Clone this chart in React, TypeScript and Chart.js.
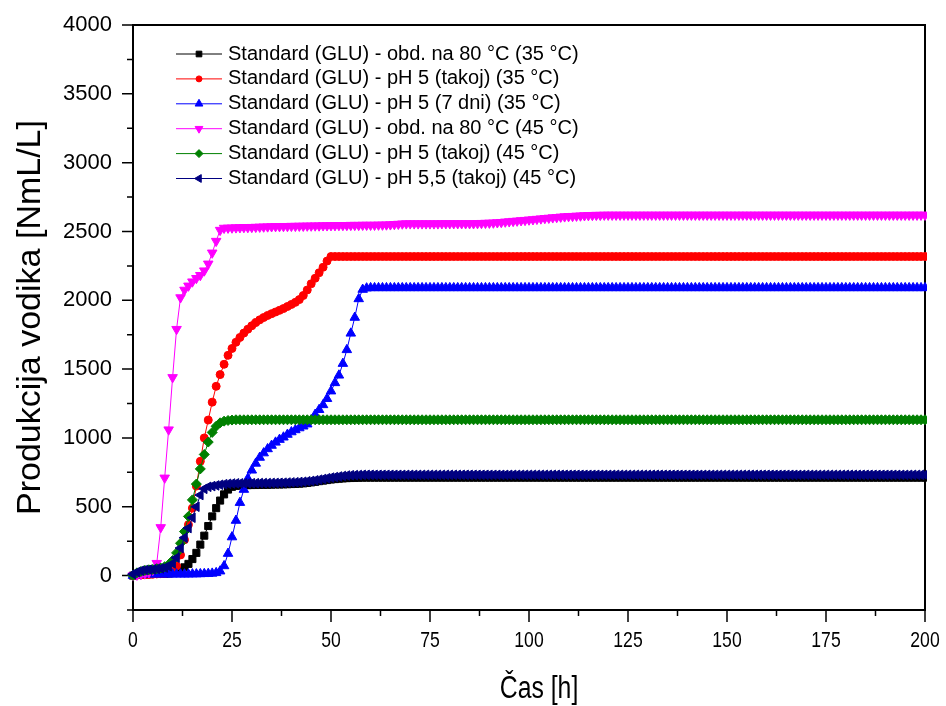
import React, { useEffect, useRef } from 'react';
import { Chart, registerables } from 'chart.js';
import { drawPoint } from 'chart.js/helpers';

Chart.register(...registerables);

// ---------------- data ----------------
const HOURS = [
  0, 1, 2, 3, 4, 5, 6, 7, 8, 9, 10, 11, 12, 13, 14, 15, 16, 17, 18, 19,
  20, 21, 22, 23, 24, 25, 26, 27, 28, 29, 30, 31, 32, 33, 34, 35, 36, 37, 38, 39,
  40, 41, 42, 43, 44, 45, 46, 47, 48, 49, 50, 51, 52, 53, 54, 55, 56, 57, 58, 59,
  60, 61, 62, 63, 64, 65, 66, 67, 68, 69, 70, 71, 72, 73, 74, 75, 76, 77, 78, 79,
  80, 81, 82, 83, 84, 85, 86, 87, 88, 89, 90, 91, 92, 93, 94, 95, 96, 97, 98, 99,
  100, 101, 102, 103, 104, 105, 106, 107, 108, 109, 110, 111, 112, 113, 114, 115, 116, 117, 118, 119,
  120, 121, 122, 123, 124, 125, 126, 127, 128, 129, 130, 131, 132, 133, 134, 135, 136, 137, 138, 139,
  140, 141, 142, 143, 144, 145, 146, 147, 148, 149, 150, 151, 152, 153, 154, 155, 156, 157, 158, 159,
  160, 161, 162, 163, 164, 165, 166, 167, 168, 169, 170, 171, 172, 173, 174, 175, 176, 177, 178, 179,
  180, 181, 182, 183, 184, 185, 186, 187, 188, 189, 190, 191, 192, 193, 194, 195, 196, 197, 198, 199,
  200,
];

// Standard (GLU) - obd. na 80 °C (35 °C)
const BLACK_OBD80_35 = [
  0, 5, 8, 10, 10, 12, 12, 12, 14, 15, 18, 25, 40, 60, 85, 120, 165, 225, 290, 360,
  430, 490, 545, 590, 625, 645, 652, 655, 656, 657, 658, 658, 659, 660, 660, 661, 662, 662, 663, 664,
  665, 666, 668, 670, 673, 677, 681, 686, 690, 694, 698, 701, 704, 706, 708, 709, 710, 711, 712, 712,
  712, 712, 712, 712, 712, 712, 712, 712, 712, 712, 712, 712, 712, 712, 712, 712, 712, 712, 712, 712,
  712, 712, 712, 712, 712, 712, 712, 712, 712, 712, 712, 712, 712, 712, 712, 712, 712, 712, 712, 712,
  712, 712, 712, 712, 712, 712, 712, 712, 712, 712, 712, 712, 712, 712, 712, 712, 712, 712, 712, 712,
  712, 712, 712, 712, 712, 712, 712, 712, 712, 712, 712, 712, 712, 712, 712, 712, 712, 712, 712, 712,
  712, 712, 712, 712, 712, 712, 712, 712, 712, 712, 712, 712, 712, 712, 712, 712, 712, 712, 712, 712,
  712, 712, 712, 712, 712, 712, 712, 712, 712, 712, 712, 712, 712, 712, 712, 712, 712, 712, 712, 712,
  712, 712, 712, 712, 712, 712, 712, 712, 712, 712, 712, 712, 712, 712, 712, 712, 712, 712, 712, 712,
  712,
];

// Standard (GLU) - pH 5 (takoj) (35 °C)
const RED_PH5_35 = [
  0, 3, 5, 6, 8, 10, 12, 14, 16, 20, 30, 70, 150, 260, 370, 490, 650, 830, 1000, 1130,
  1260, 1375, 1460, 1535, 1600, 1650, 1695, 1730, 1762, 1790, 1815, 1838, 1858, 1875, 1890, 1903, 1915, 1927, 1940, 1955,
  1970, 1985, 2005, 2035, 2075, 2120, 2160, 2200, 2240, 2285, 2318, 2318, 2318, 2318, 2318, 2318, 2318, 2318, 2318, 2318,
  2318, 2318, 2318, 2318, 2318, 2318, 2318, 2318, 2318, 2318, 2318, 2318, 2318, 2318, 2318, 2318, 2318, 2318, 2318, 2318,
  2318, 2318, 2318, 2318, 2318, 2318, 2318, 2318, 2318, 2318, 2318, 2318, 2318, 2318, 2318, 2318, 2318, 2318, 2318, 2318,
  2318, 2318, 2318, 2318, 2318, 2318, 2318, 2318, 2318, 2318, 2318, 2318, 2318, 2318, 2318, 2318, 2318, 2318, 2318, 2318,
  2318, 2318, 2318, 2318, 2318, 2318, 2318, 2318, 2318, 2318, 2318, 2318, 2318, 2318, 2318, 2318, 2318, 2318, 2318, 2318,
  2318, 2318, 2318, 2318, 2318, 2318, 2318, 2318, 2318, 2318, 2318, 2318, 2318, 2318, 2318, 2318, 2318, 2318, 2318, 2318,
  2318, 2318, 2318, 2318, 2318, 2318, 2318, 2318, 2318, 2318, 2318, 2318, 2318, 2318, 2318, 2318, 2318, 2318, 2318, 2318,
  2318, 2318, 2318, 2318, 2318, 2318, 2318, 2318, 2318, 2318, 2318, 2318, 2318, 2318, 2318, 2318, 2318, 2318, 2318, 2318,
  2318,
];

// Standard (GLU) - pH 5 (7 dni) (35 °C)
const BLUE_PH5_7DNI_35 = [
  0, 5, 8, 10, 10, 10, 10, 10, 10, 10, 10, 10, 10, 10, 10, 11, 11, 12, 13, 14,
  16, 20, 32, 70, 160, 280, 400, 530, 625, 705, 765, 815, 858, 890, 920, 945, 968, 988, 1005, 1025,
  1043, 1058, 1072, 1085, 1100, 1130, 1170, 1205, 1240, 1285, 1340, 1400, 1455, 1540, 1640, 1760, 1875, 2010, 2078, 2088,
  2090, 2090, 2090, 2090, 2090, 2090, 2090, 2090, 2090, 2090, 2090, 2090, 2090, 2090, 2090, 2090, 2090, 2090, 2090, 2090,
  2090, 2090, 2090, 2090, 2090, 2090, 2090, 2090, 2090, 2090, 2090, 2090, 2090, 2090, 2090, 2090, 2090, 2090, 2090, 2090,
  2090, 2090, 2090, 2090, 2090, 2090, 2090, 2090, 2090, 2090, 2090, 2090, 2090, 2090, 2090, 2090, 2090, 2090, 2090, 2090,
  2090, 2090, 2090, 2090, 2090, 2090, 2090, 2090, 2090, 2090, 2090, 2090, 2090, 2090, 2090, 2090, 2090, 2090, 2090, 2090,
  2090, 2090, 2090, 2090, 2090, 2090, 2090, 2090, 2090, 2090, 2090, 2090, 2090, 2090, 2090, 2090, 2090, 2090, 2090, 2090,
  2090, 2090, 2090, 2090, 2090, 2090, 2090, 2090, 2090, 2090, 2090, 2090, 2090, 2090, 2090, 2090, 2090, 2090, 2090, 2090,
  2090, 2090, 2090, 2090, 2090, 2090, 2090, 2090, 2090, 2090, 2090, 2090, 2090, 2090, 2090, 2090, 2090, 2090, 2090, 2090,
  2090,
];

// Standard (GLU) - obd. na 80 °C (45 °C)
const MAGENTA_OBD80_45 = [
  0, 5, 10, 15, 22, 40, 90, 350, 710, 1060, 1440, 1790, 2020, 2075, 2105, 2135, 2160, 2182, 2215, 2265,
  2345, 2430, 2510, 2525, 2526, 2527, 2528, 2529, 2530, 2530, 2531, 2532, 2533, 2534, 2535, 2536, 2537, 2537, 2538, 2538,
  2539, 2539, 2540, 2540, 2541, 2541, 2542, 2542, 2543, 2543, 2544, 2544, 2545, 2545, 2545, 2546, 2546, 2546, 2547, 2547,
  2547, 2547, 2548, 2548, 2549, 2550, 2552, 2554, 2556, 2557, 2557, 2557, 2557, 2557, 2557, 2557, 2557, 2557, 2558, 2558,
  2558, 2558, 2558, 2558, 2558, 2558, 2558, 2559, 2560, 2561, 2562, 2563, 2565, 2567, 2570, 2572, 2575, 2577, 2580, 2582,
  2585, 2587, 2590, 2593, 2596, 2598, 2601, 2603, 2606, 2608, 2610, 2611, 2613, 2614, 2616, 2617, 2618, 2619, 2619, 2620,
  2620, 2620, 2620, 2620, 2620, 2620, 2620, 2620, 2620, 2620, 2620, 2620, 2620, 2620, 2620, 2620, 2620, 2620, 2620, 2620,
  2620, 2620, 2620, 2620, 2620, 2620, 2620, 2620, 2620, 2620, 2620, 2620, 2620, 2620, 2620, 2620, 2620, 2620, 2620, 2620,
  2620, 2620, 2620, 2620, 2620, 2620, 2620, 2620, 2620, 2620, 2620, 2620, 2620, 2620, 2620, 2620, 2620, 2620, 2620, 2620,
  2620, 2620, 2620, 2620, 2620, 2620, 2620, 2620, 2620, 2620, 2620, 2620, 2620, 2620, 2620, 2620, 2620, 2620, 2620, 2620,
  2620,
];

// Standard (GLU) - pH 5 (takoj) (45 °C)
const GREEN_PH5_45 = [
  0, 20, 30, 38, 42, 45, 50, 55, 65, 80, 110, 165, 235, 320, 430, 550, 665, 775, 880, 970,
  1040, 1085, 1110, 1122, 1127, 1130, 1132, 1132, 1132, 1132, 1132, 1132, 1132, 1132, 1132, 1132, 1132, 1132, 1132, 1132,
  1132, 1132, 1132, 1132, 1132, 1132, 1132, 1132, 1132, 1132, 1132, 1132, 1132, 1132, 1132, 1132, 1132, 1132, 1132, 1132,
  1132, 1132, 1132, 1132, 1132, 1132, 1132, 1132, 1132, 1132, 1132, 1132, 1132, 1132, 1132, 1132, 1132, 1132, 1132, 1132,
  1132, 1132, 1132, 1132, 1132, 1132, 1132, 1132, 1132, 1132, 1132, 1132, 1132, 1132, 1132, 1132, 1132, 1132, 1132, 1132,
  1132, 1132, 1132, 1132, 1132, 1132, 1132, 1132, 1132, 1132, 1132, 1132, 1132, 1132, 1132, 1132, 1132, 1132, 1132, 1132,
  1132, 1132, 1132, 1132, 1132, 1132, 1132, 1132, 1132, 1132, 1132, 1132, 1132, 1132, 1132, 1132, 1132, 1132, 1132, 1132,
  1132, 1132, 1132, 1132, 1132, 1132, 1132, 1132, 1132, 1132, 1132, 1132, 1132, 1132, 1132, 1132, 1132, 1132, 1132, 1132,
  1132, 1132, 1132, 1132, 1132, 1132, 1132, 1132, 1132, 1132, 1132, 1132, 1132, 1132, 1132, 1132, 1132, 1132, 1132, 1132,
  1132, 1132, 1132, 1132, 1132, 1132, 1132, 1132, 1132, 1132, 1132, 1132, 1132, 1132, 1132, 1132, 1132, 1132, 1132, 1132,
  1132,
];

// Standard (GLU) - pH 5,5 (takoj) (45 °C)
const NAVY_PH55_45 = [
  10, 25, 35, 40, 43, 45, 48, 52, 58, 68, 88, 130, 200, 275, 345, 420, 500, 585, 630, 645,
  650, 655, 660, 664, 667, 669, 670, 670, 670, 671, 671, 671, 672, 672, 672, 673, 673, 674, 675, 676,
  677, 678, 680, 682, 685, 688, 692, 697, 702, 707, 712, 716, 720, 724, 727, 729, 730, 731, 732, 732,
  732, 732, 732, 732, 732, 732, 732, 732, 732, 732, 732, 732, 732, 732, 732, 732, 732, 732, 732, 732,
  732, 732, 732, 732, 732, 732, 732, 732, 732, 732, 732, 732, 732, 732, 732, 732, 732, 732, 732, 732,
  732, 732, 732, 732, 732, 732, 732, 732, 732, 732, 732, 732, 732, 732, 732, 732, 732, 732, 732, 732,
  732, 732, 732, 732, 732, 732, 732, 732, 732, 732, 732, 732, 732, 732, 732, 732, 732, 732, 732, 732,
  732, 732, 732, 732, 732, 732, 732, 732, 732, 732, 732, 732, 732, 732, 732, 732, 732, 732, 732, 732,
  732, 732, 732, 732, 732, 732, 732, 732, 732, 732, 732, 732, 732, 732, 732, 732, 732, 732, 732, 732,
  732, 732, 732, 732, 732, 732, 732, 732, 732, 732, 732, 732, 732, 732, 732, 732, 732, 732, 732, 732,
  732,
];

const SERIES_LABELS = [
  'Standard (GLU) - obd. na 80 °C (35 °C)',
  'Standard (GLU) - pH 5 (takoj) (35 °C)',
  'Standard (GLU) - pH 5 (7 dni) (35 °C)',
  'Standard (GLU) - obd. na 80 °C (45 °C)',
  'Standard (GLU) - pH 5 (takoj) (45 °C)',
  'Standard (GLU) - pH 5,5 (takoj) (45 °C)',
];

const X_MAJOR = [0, 25, 50, 75, 100, 125, 150, 175, 200];
const X_MINOR = [12.5, 37.5, 62.5, 87.5, 112.5, 137.5, 162.5, 187.5];
const Y_MAJOR = [0, 500, 1000, 1500, 2000, 2500, 3000, 3500, 4000];
const Y_MINOR = [-250, 250, 750, 1250, 1750, 2250, 2750, 3250, 3750];

const X_TITLE = 'Čas [h]';
const Y_TITLE = 'Produkcija vodika [NmL/L]';

// ---------------- styling ----------------
const SANS = '"Liberation Sans", Arial, Helvetica, sans-serif';

const STYLES = [
  { color: '#000000', pointStyle: 'rect', rotation: 0, radius: 5 },
  { color: '#ff0000', pointStyle: 'circle', rotation: 0, radius: 4 },
  { color: '#0000ff', pointStyle: 'triangle', rotation: 0, radius: 5.5 },
  { color: '#ff00ff', pointStyle: 'triangle', rotation: 180, radius: 5.5 },
  { color: '#008000', pointStyle: 'rectRot', rotation: 0, radius: 5 },
  { color: '#000080', pointStyle: 'triangle', rotation: 270, radius: 5.5 },
];

const framePlugin = {
  id: 'frameTicks',
  beforeDatasetsDraw(chart: any) {
    const { ctx, chartArea: a, scales } = chart;
    const xs = scales.x;
    const ys = scales.y;
    ctx.save();
    ctx.strokeStyle = '#000';
    ctx.lineWidth = 2;
    ctx.strokeRect(a.left, a.top, a.right - a.left, a.bottom - a.top);
    ctx.lineWidth = 1.5;
    ctx.beginPath();
    X_MAJOR.forEach((v) => {
      const px = xs.getPixelForValue(v);
      ctx.moveTo(px, a.bottom);
      ctx.lineTo(px, a.bottom + 12);
    });
    X_MINOR.forEach((v) => {
      const px = xs.getPixelForValue(v);
      ctx.moveTo(px, a.bottom);
      ctx.lineTo(px, a.bottom + 6);
    });
    Y_MAJOR.forEach((v) => {
      const py = ys.getPixelForValue(v);
      ctx.moveTo(a.left, py);
      ctx.lineTo(a.left - 11, py);
    });
    Y_MINOR.forEach((v) => {
      const py = ys.getPixelForValue(v);
      ctx.moveTo(a.left, py);
      ctx.lineTo(a.left - 6, py);
    });
    ctx.stroke();
    ctx.restore();
  },
};

// x tick labels and title: the original uses a narrow face, so they are
// drawn as text horizontally condensed, placed from the chart's x scale.
const xLabelPlugin = {
  id: 'narrowXLabels',
  afterDraw(chart: any) {
    const { ctx, chartArea: a, scales } = chart;
    const xs = scales.x;
    ctx.save();
    ctx.fillStyle = '#000';
    ctx.textAlign = 'center';
    ctx.textBaseline = 'middle';
    ctx.font = `22px ${SANS}`;
    X_MAJOR.forEach((v) => {
      ctx.save();
      ctx.translate(xs.getPixelForValue(v), a.bottom + 31);
      ctx.scale(0.8, 1);
      ctx.fillText(String(v), 0, 0);
      ctx.restore();
    });
    ctx.font = `31px ${SANS}`;
    ctx.translate((xs.left + xs.right) / 2 + 10, a.bottom + 79);
    ctx.scale(0.8, 1);
    ctx.fillText(X_TITLE, 0, 0);
    ctx.restore();
  },
};

const LEGEND = { x0: 176, x1: 222, textX: 228, y0: 54, row: 24.9 };

const legendPlugin = {
  id: 'insetLegend',
  afterDatasetsDraw(chart: any) {
    const { ctx } = chart;
    ctx.save();
    chart.data.datasets.forEach((ds: any, i: number) => {
      const y = LEGEND.y0 + i * LEGEND.row;
      ctx.strokeStyle = ds.borderColor;
      ctx.lineWidth = 1;
      ctx.beginPath();
      ctx.moveTo(LEGEND.x0, y);
      ctx.lineTo(LEGEND.x1, y);
      ctx.stroke();
      ctx.fillStyle = ds.pointBackgroundColor;
      ctx.strokeStyle = ds.pointBorderColor;
      drawPoint(
        ctx,
        { pointStyle: ds.pointStyle, rotation: ds.pointRotation, radius: ds.pointRadius - 1, borderWidth: 1 },
        (LEGEND.x0 + LEGEND.x1) / 2,
        y
      );
      ctx.fillStyle = '#000';
      ctx.font = `20px ${SANS}`;
      ctx.textAlign = 'left';
      ctx.textBaseline = 'middle';
      ctx.fillText(ds.label, LEGEND.textX, y);
    });
    ctx.restore();
  },
};

export default function App() {
  const canvasRef = useRef<HTMLCanvasElement | null>(null);

  useEffect(() => {
    const canvas = canvasRef.current;
    if (!canvas) return;
    const seriesValues = [
      BLACK_OBD80_35,
      RED_PH5_35,
      BLUE_PH5_7DNI_35,
      MAGENTA_OBD80_45,
      GREEN_PH5_45,
      NAVY_PH55_45,
    ];
    const datasets = seriesValues.map((vals, i) => {
      const st = STYLES[i];
      return {
        label: SERIES_LABELS[i],
        data: HOURS.map((h, j) => ({ x: h, y: vals[j] })),
        borderColor: st.color,
        backgroundColor: st.color,
        pointBackgroundColor: st.color,
        pointBorderColor: st.color,
        pointBorderWidth: 1,
        pointStyle: st.pointStyle,
        pointRotation: st.rotation,
        pointRadius: st.radius,
        borderWidth: 1,
        tension: 0,
        fill: false,
        order: seriesValues.length - i,
        clip: { left: 8, right: 2, top: 0, bottom: 8 },
      };
    });

    const chart = new Chart(canvas, {
      type: 'line',
      data: { datasets } as any,
      options: {
        responsive: false,
        animation: false,
        devicePixelRatio: 1,
        events: [],
        layout: { padding: { left: 0, right: 21, top: 25, bottom: 0 } },
        plugins: { legend: { display: false }, tooltip: { enabled: false } },
        scales: {
          x: {
            type: 'linear',
            min: 0,
            max: 200,
            grid: { display: false, drawTicks: false },
            border: { display: false },
            afterBuildTicks: (s: any) => {
              s.ticks = X_MAJOR.map((v) => ({ value: v }));
            },
            afterFit: (s: any) => {
              s.height = 96;
              s.paddingLeft = 0;
              s.paddingRight = 0;
            },
            ticks: { display: false },
            title: { display: false },
          },
          y: {
            type: 'linear',
            min: -250,
            max: 4000,
            grid: { display: false, drawTicks: false },
            border: { display: false },
            afterBuildTicks: (s: any) => {
              s.ticks = Y_MAJOR.map((v) => ({ value: v }));
            },
            afterFit: (s: any) => {
              s.width = 133;
              s.paddingTop = 0;
              s.paddingBottom = 0;
            },
            ticks: {
              color: '#000',
              font: { family: SANS, size: 22 },
              padding: 21,
              autoSkip: false,
              callback: (v: any) => String(v),
            },
            title: {
              display: true,
              text: Y_TITLE,
              color: '#000',
              font: { family: SANS, size: 34 },
              padding: { top: 10, bottom: 0 },
            },
          },
        },
      } as any,
      plugins: [framePlugin, legendPlugin, xLabelPlugin],
    });
    return () => chart.destroy();
  }, []);

  return (
    <div style={{ position: 'absolute', left: 0, top: 0, width: 946, height: 706, background: '#fff' }}>
      <canvas ref={canvasRef} width={946} height={706} style={{ width: 946, height: 706, display: 'block' }} />
    </div>
  );
}
